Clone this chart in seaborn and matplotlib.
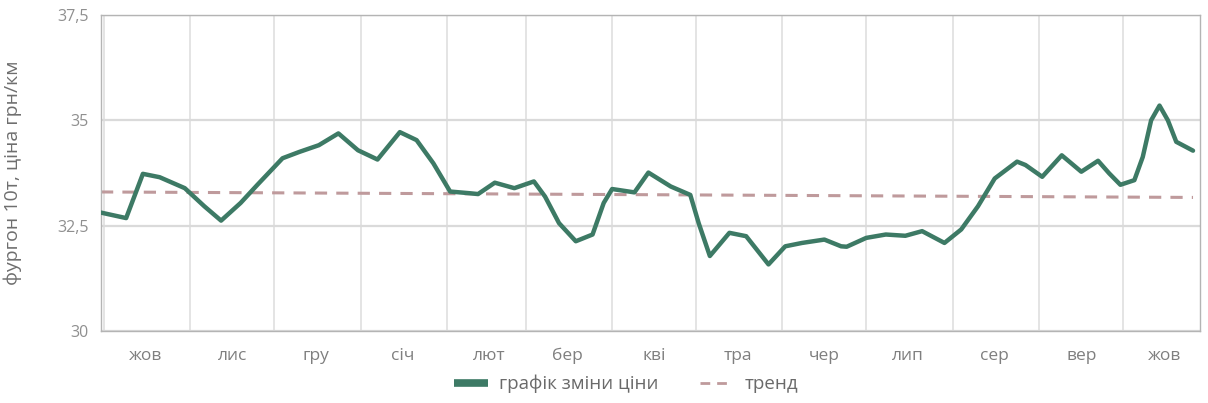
import matplotlib
matplotlib.use("Agg")
import matplotlib.pyplot as plt
import matplotlib.dates as mdates
from matplotlib.lines import Line2D
from matplotlib.ticker import FuncFormatter, FixedLocator, FixedFormatter
import pandas as pd
import seaborn as sns

# Price series: van 10t, UAH per km
dates = [
    "2022-09-30", "2022-10-09", "2022-10-15", "2022-10-21", "2022-10-30",
    "2022-11-06", "2022-11-12", "2022-11-19", "2022-11-25", "2022-12-04",
    "2022-12-10", "2022-12-17", "2022-12-24", "2022-12-31", "2023-01-07",
    "2023-01-15", "2023-01-21", "2023-01-27", "2023-02-02", "2023-02-09",
    "2023-02-12", "2023-02-18", "2023-02-25", "2023-03-04", "2023-03-08",
    "2023-03-13", "2023-03-19", "2023-03-25", "2023-03-29", "2023-04-01",
    "2023-04-09", "2023-04-14", "2023-04-22", "2023-04-29", "2023-05-02",
    "2023-05-06", "2023-05-13", "2023-05-19", "2023-05-27", "2023-06-02",
    "2023-06-08", "2023-06-16", "2023-06-22", "2023-06-24", "2023-07-01",
    "2023-07-08", "2023-07-15", "2023-07-21", "2023-07-29", "2023-08-04",
    "2023-08-10", "2023-08-16", "2023-08-24", "2023-08-27", "2023-09-02",
    "2023-09-09", "2023-09-16", "2023-09-22", "2023-09-26", "2023-09-30",
    "2023-10-05", "2023-10-08", "2023-10-11", "2023-10-14", "2023-10-17",
    "2023-10-20", "2023-10-26",
]
prices = [
    32.81, 32.68, 33.73, 33.65, 33.39,
    32.96, 32.62, 33.04, 33.47, 34.10,
    34.25, 34.41, 34.69, 34.29, 34.07,
    34.72, 34.53, 33.98, 33.31, 33.27,
    33.25, 33.52, 33.39, 33.55, 33.19,
    32.56, 32.13, 32.29, 33.04, 33.37,
    33.29, 33.76, 33.43, 33.23, 32.56,
    31.78, 32.33, 32.25, 31.58, 32.01,
    32.09, 32.17, 32.01, 32.00, 32.21,
    32.29, 32.26, 32.37, 32.09, 32.41,
    32.96, 33.62, 34.02, 33.94, 33.66,
    34.17, 33.78, 34.04, 33.74, 33.47,
    33.58, 34.13, 35.00, 35.35, 35.00,
    34.49, 34.28,
]

# Linear trend endpoints
trend_dates = ["2022-09-30", "2023-10-26"]
trend_values = [33.30, 33.17]

# Month abbreviations, January first
month_names = ["січ", "лют", "бер", "кві", "тра", "чер",
               "лип", "сер", "вер", "жов", "лис", "гру"]
y_ticks = [30, 32.5, 35, 37.5]
y_tick_labels = ["30", "32,5", "35", "37,5"]

series_label = "графік зміни ціни"
trend_label = "тренд"
y_label = "фургон 10т, ціна грн/км"

GREEN = "#3d7a65"
TREND = "#bf9a9c"

sns.set_theme(style="white")
plt.rcParams["font.family"] = ["Open Sans", "DejaVu Sans"]

fig = plt.figure(figsize=(12.08, 4.03), dpi=100)
ax = fig.add_axes([101 / 1208, 1 - 331 / 403, 1099 / 1208, 316 / 403])

df = pd.DataFrame({"date": pd.to_datetime(dates), "price": prices})
tr = pd.DataFrame({"date": pd.to_datetime(trend_dates), "value": trend_values})

sns.lineplot(data=tr, x="date", y="value", ax=ax, color=TREND, linewidth=2.2, zorder=2)
ax.lines[-1].set_dashes([4, 3])
sns.lineplot(data=df, x="date", y="price", ax=ax, color=GREEN, linewidth=3.2,
             zorder=3, solid_joinstyle="round", solid_capstyle="round")

ax.set_xlim(pd.Timestamp("2022-09-30"), pd.Timestamp("2023-10-28 12:00"))
ax.set_ylim(30, 37.5)

# Y axis
ax.yaxis.set_major_locator(FixedLocator(y_ticks))
ax.yaxis.set_major_formatter(FixedFormatter(y_tick_labels))
ax.tick_params(axis="y", length=0, pad=9, labelsize=11.5, labelcolor="#8f8f8f")
ax.grid(axis="y", color="#dadada", linewidth=1.6)

# X axis: gridlines at month starts, labels mid-month
ax.xaxis.set_major_locator(mdates.MonthLocator())
ax.xaxis.set_major_formatter(FuncFormatter(lambda v, p: ""))
ax.xaxis.set_minor_locator(mdates.MonthLocator(bymonthday=16))
ax.xaxis.set_minor_formatter(
    FuncFormatter(lambda v, p: month_names[mdates.num2date(v).month - 1]))
ax.tick_params(axis="x", which="major", length=34, width=1.2,
               color="#e4e4e4", direction="out")
ax.tick_params(axis="x", which="minor", length=0, pad=12,
               labelsize=12.5, labelcolor="#7f7f7f")
ax.grid(axis="x", which="major", color="#dcdcdc", linewidth=1.1)

for s in ax.spines.values():
    s.set_color("#b4b4b4")
    s.set_linewidth(1.0)

ax.set_xlabel("")
ax.set_ylabel(y_label, fontsize=14, color="#6e6e6e")
ax.yaxis.set_label_coords(-79 / 1099, 0.5)

handles = [
    Line2D([], [], color=GREEN, linewidth=5.5, solid_capstyle="butt"),
    Line2D([], [], color=TREND, linewidth=2, dashes=[3.5, 2.5]),
]
fig.legend(handles, [series_label, trend_label], loc="center",
           bbox_to_anchor=(626 / 1208, 1 - 384 / 403), ncol=2, frameon=False,
           fontsize=13.5, labelcolor="#6a6a6a", handlelength=1.8,
           handletextpad=0.6, columnspacing=2.2)

fig.savefig("out.png", dpi=100, facecolor="white")
